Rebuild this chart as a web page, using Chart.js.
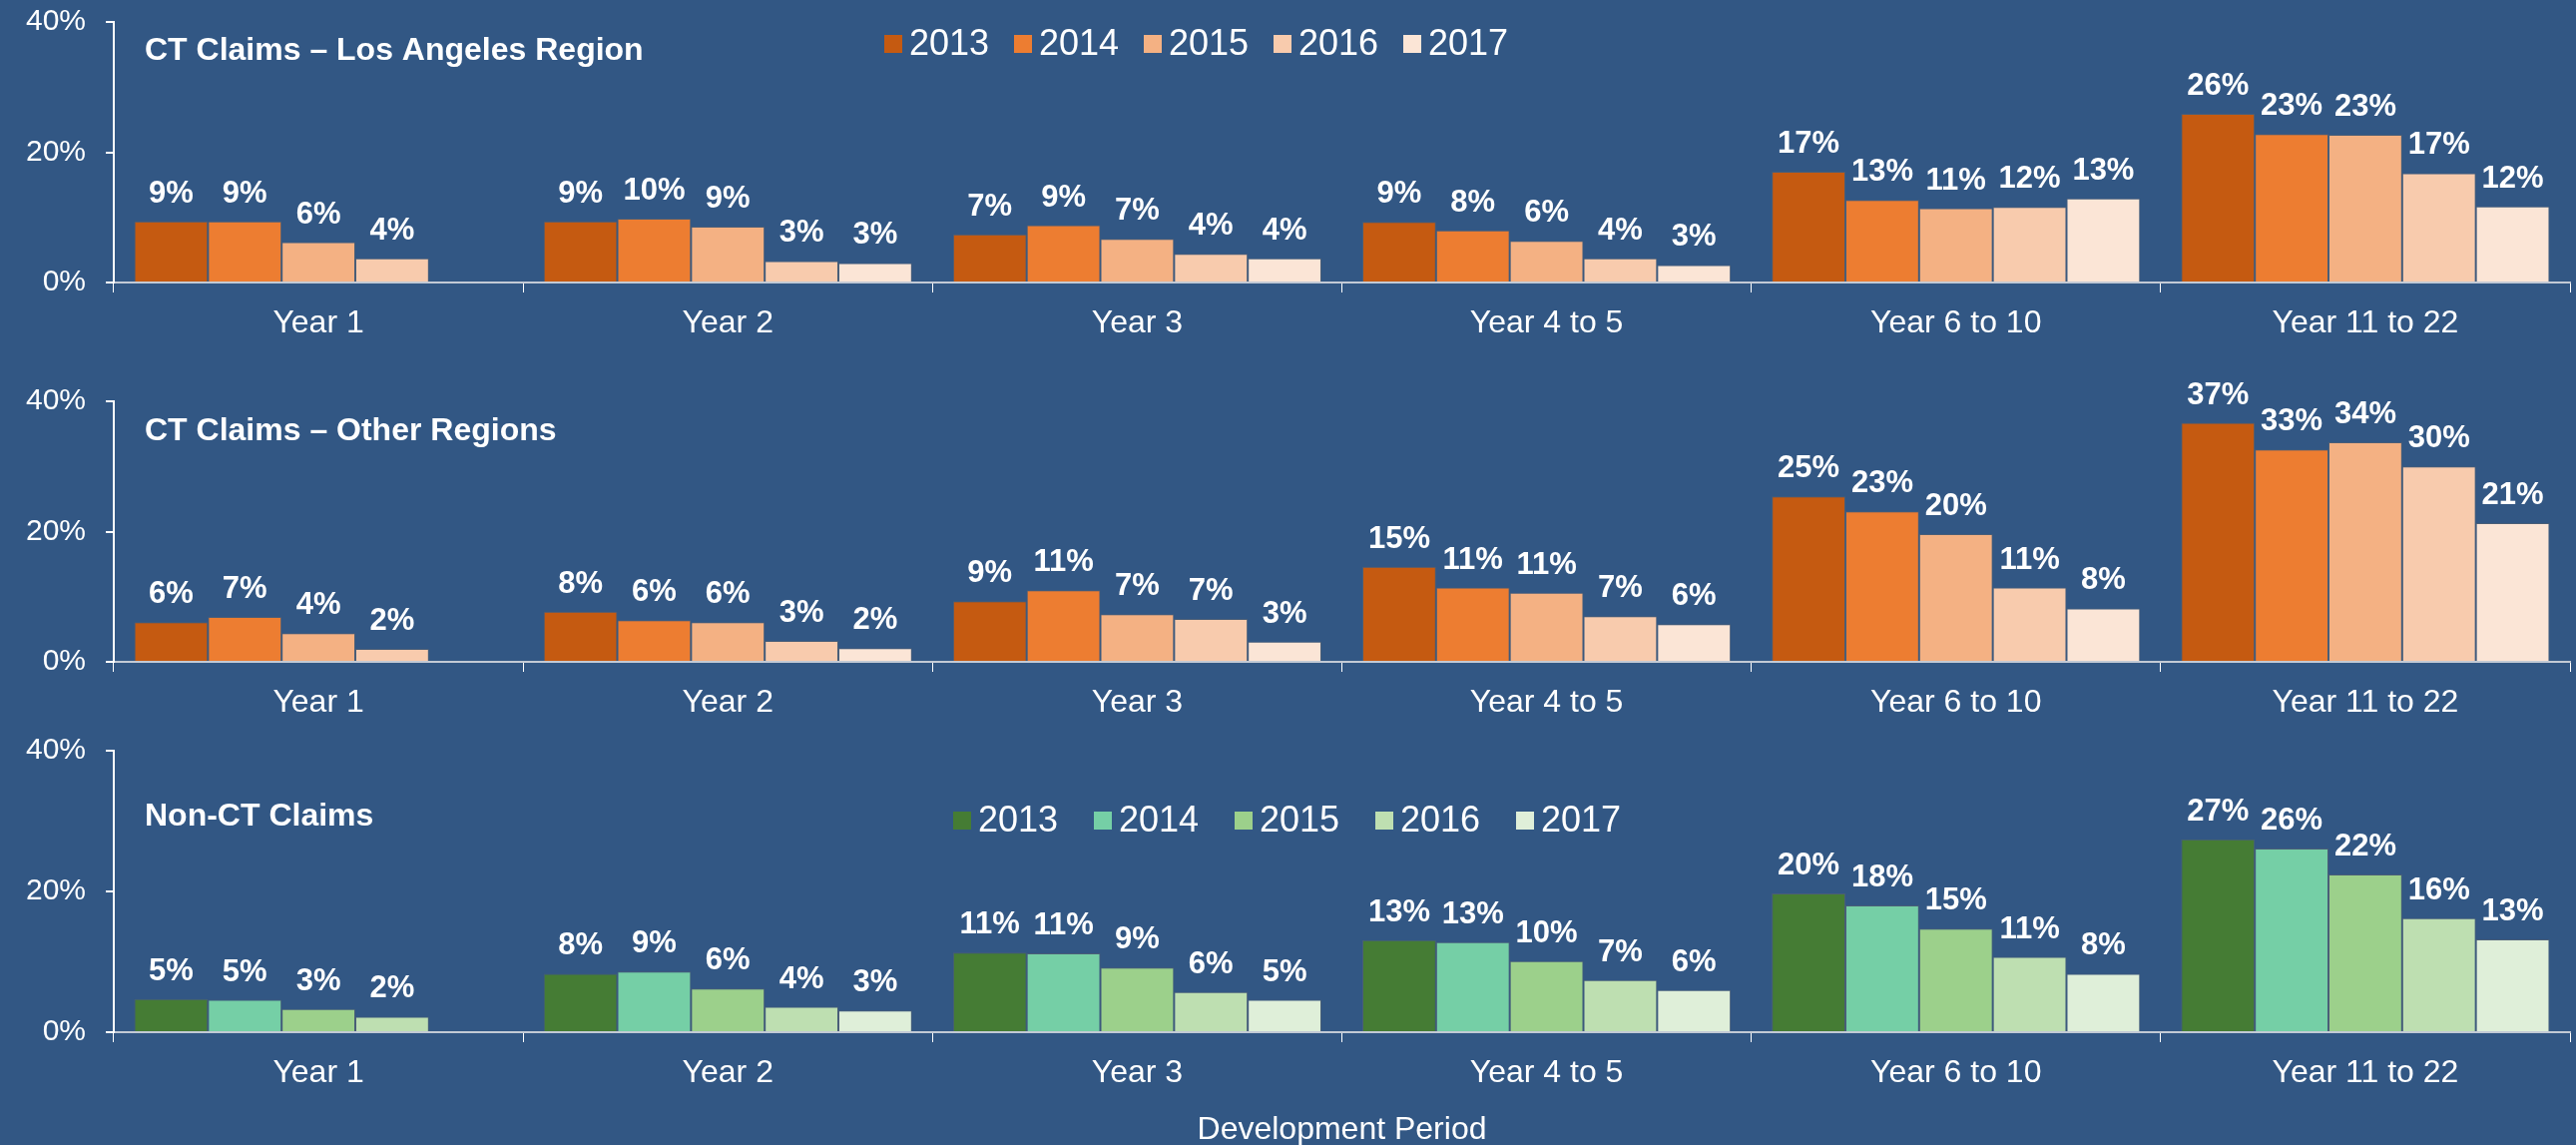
<!DOCTYPE html>
<html>
<head>
<meta charset="utf-8">
<title>Claim development by period</title>
<script src="https://cdn.jsdelivr.net/npm/chart.js@4.4.1/dist/chart.umd.min.js"></script>
<style>
  html, body { margin: 0; padding: 0; background: #325784; }
  body { width: 2581px; height: 1147px; position: relative; overflow: hidden; }
  canvas { position: absolute; left: 0; }
</style>
</head>
<body>
<canvas id="chartLA" width="2581" height="345" style="top:0px"></canvas>
<canvas id="chartOther" width="2581" height="380" style="top:345px"></canvas>
<canvas id="chartNonCT" width="2581" height="422" style="top:725px"></canvas>
<script>
const categories = ['Year 1', 'Year 2', 'Year 3', 'Year 4 to 5', 'Year 6 to 10', 'Year 11 to 22'];
const years = ['2013', '2014', '2015', '2016', '2017'];

// CT claims, Los Angeles region (% by development period)
const la2013 = [9.4, 9.4, 7.4, 9.3, 17.0, 25.9];
const la2014 = [9.4, 9.8, 8.8, 8.0, 12.7, 22.8];
const la2015 = [6.2, 8.6, 6.7, 6.4, 11.4, 22.7];
const la2016 = [3.7, 3.3, 4.4, 3.7, 11.6, 16.8];
const la2017 = [null, 3.0, 3.7, 2.7, 12.9, 11.7];

// CT claims, other regions
const ot2013 = [6.1, 7.7, 9.3, 14.6, 25.4, 36.7];
const ot2014 = [6.9, 6.4, 11.0, 11.4, 23.1, 32.6];
const ot2015 = [4.4, 6.1, 7.3, 10.6, 19.6, 33.7];
const ot2016 = [2.0, 3.2, 6.6, 7.0, 11.4, 30.0];
const ot2017 = [null, 2.1, 3.1, 5.8, 8.2, 21.3];

// Non-CT claims
const nc2013 = [4.7, 8.3, 11.3, 13.1, 19.7, 27.4];
const nc2014 = [4.6, 8.6, 11.2, 12.8, 18.0, 26.1];
const nc2015 = [3.3, 6.2, 9.2, 10.1, 14.7, 22.4];
const nc2016 = [2.2, 3.6, 5.7, 7.4, 10.7, 16.2];
const nc2017 = [null, 3.1, 4.6, 6.0, 8.3, 13.2];

const yTicks = [0, 20, 40];

const orangePalette = ['#C55A11', '#ED7D31', '#F4B183', '#F8CBAD', '#FBE5D6'];
const greenPalette = ['#457C34', '#75CFA6', '#9CD08B', '#BEDFB1', '#DFEFD9'];

const FONT = '"Liberation Sans", Arial, Helvetica, sans-serif';
Chart.defaults.font.family = FONT;
Chart.defaults.color = '#ffffff';

// value labels over the bars, the panel heading and the year legend
const panelDecor = {
  id: 'panelDecor',
  afterDatasetsDraw(chart, args, opts) {
    const ctx = chart.ctx;
    ctx.save();
    ctx.fillStyle = '#ffffff';
    ctx.font = 'bold 31px ' + FONT;
    ctx.textAlign = 'center';
    ctx.textBaseline = 'alphabetic';
    chart.data.datasets.forEach((ds, i) => {
      chart.getDatasetMeta(i).data.forEach((bar, j) => {
        const v = ds.data[j];
        if (v === null || v === undefined) return;
        ctx.fillText(Math.round(v) + '%', bar.x, bar.y - 19);
      });
    });

    ctx.font = 'bold 32px ' + FONT;
    ctx.textAlign = 'left';
    ctx.textBaseline = 'middle';
    ctx.fillText(opts.heading, chart.chartArea.left + 31, opts.headingY);

    if (opts.legendX) {
      ctx.font = '36px ' + FONT;
      let x = opts.legendX;
      chart.data.datasets.forEach(ds => {
        ctx.fillStyle = ds.backgroundColor;
        ctx.fillRect(x, opts.legendY - 9, 18, 18);
        ctx.fillStyle = '#ffffff';
        ctx.fillText(ds.label, x + 25, opts.legendY + 1);
        x += opts.legendStep;
      });
    }
    ctx.restore();
  }
};

const makeChart = (canvasId, series, palette, panel) => {
  const datasets = series.map((values, i) => ({
    label: years[i],
    data: values,
    backgroundColor: palette[i],
    borderColor: 'rgba(105,105,105,0.45)',
    borderWidth: 1,
    categoryPercentage: 0.9,
    barPercentage: 1.0,
  }));

  return new Chart(document.getElementById(canvasId), {
    type: 'bar',
    data: { labels: categories, datasets: datasets },
    options: {
      responsive: false,
      animation: false,
      devicePixelRatio: 1,
      layout: { padding: { top: panel.top, right: 6, bottom: 0, left: 0 } },
      plugins: {
        legend: { display: false },
        tooltip: { enabled: false },
        panelDecor: panel,
      },
      scales: {
        x: {
          grid: { offset: true, drawOnChartArea: false, color: '#ffffff', lineWidth: 1, tickLength: 10 },
          border: { color: '#c3cad5', width: 2 },
          ticks: { color: '#ffffff', font: { size: 32 }, padding: 12 },
          title: {
            display: !!panel.axisTitle,
            text: panel.axisTitle || '',
            color: '#ffffff',
            font: { size: 32 },
            padding: { top: 0, bottom: -4 },
          },
          afterFit: (scale) => {
            scale.height = panel.xHeight;
            scale.paddingLeft = 0;
            scale.paddingRight = 0;
          },
        },
        y: {
          min: 0,
          max: 40,
          afterBuildTicks: (scale) => { scale.ticks = yTicks.map(v => ({ value: v })); },
          ticks: { color: '#ffffff', font: { size: 30 }, padding: 20, callback: (v) => v + '%' },
          grid: { drawOnChartArea: false, color: '#ffffff', lineWidth: 2, tickLength: 8 },
          border: { color: '#ffffff', width: 2 },
          afterFit: (scale) => {
            scale.width = 114;
            // keep the plot box where the layout padding puts it
            scale.paddingTop = 0;
            scale.paddingBottom = 0;
          },
        },
      },
    },
    plugins: [panelDecor],
  });
};

makeChart('chartLA', [la2013, la2014, la2015, la2016, la2017], orangePalette, {
  top: 22, xHeight: 62,
  heading: 'CT Claims \u2013 Los Angeles Region', headingY: 51,
  legendX: 886, legendY: 44, legendStep: 130,
});

makeChart('chartOther', [ot2013, ot2014, ot2015, ot2016, ot2017], orangePalette, {
  top: 57, xHeight: 62,
  heading: 'CT Claims \u2013 Other Regions', headingY: 87,
});

makeChart('chartNonCT', [nc2013, nc2014, nc2015, nc2016, nc2017], greenPalette, {
  top: 27, xHeight: 113,
  heading: 'Non-CT Claims', headingY: 93,
  legendX: 955, legendY: 97, legendStep: 141,
  axisTitle: 'Development Period',
});
</script>
</body>
</html>
